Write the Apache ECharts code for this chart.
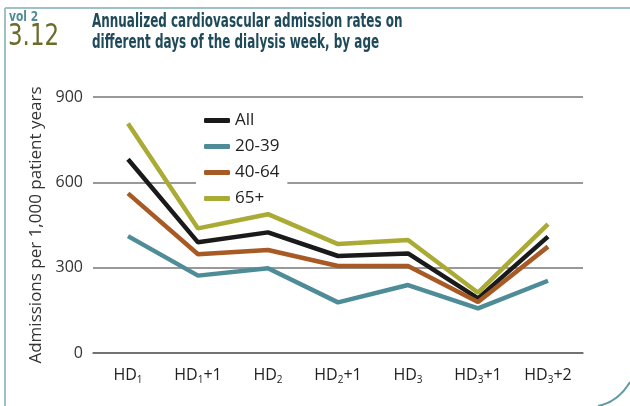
<!DOCTYPE html>
<html lang="en">
<head>
    <meta charset="UTF-8">
    <title>Annualized cardiovascular admission rates</title>
    <script src="https://cdn.jsdelivr.net/npm/echarts@6/dist/echarts.min.js"></script>
    <style>
        html, body {
            margin: 0;
            height: 100%;
            background: #fff;
        }
    </style>
</head>
<body>
<!--图表容器-->
<div id="main" style="width: 630px;height: 406px"></div>
</body>
</html>
<script>

    // 数据
    var days = ['HD|1|', 'HD|1|+1', 'HD|2|', 'HD|2|+1', 'HD|3|', 'HD|3|+1', 'HD|3|+2'];
    var allAges = [681, 389, 424, 341, 350, 192, 409];
    var age20to39 = [411, 272, 298, 178, 239, 157, 254];
    var age40to64 = [561, 347, 362, 306, 306, 179, 374];
    var age65plus = [807, 438, 488, 383, 397, 212, 453];
    var yTicks = [0, 300, 600, 900];

    // HD|1|+1 -> rich text with subscript
    function dayLabel(v) {
        var p = v.split('|');
        return '{a|' + p[0] + '}{s|' + p[1] + '}' + (p[2] ? '{a|' + p[2] + '}' : '');
    }

    var myChart = echarts.init(document.getElementById('main'));

    var lineW = 4.5;
    function line(name, data, color) {
        return {
            name: name,
            type: 'line',
            data: data,
            symbol: 'none',
            lineStyle: {color: color, width: lineW},
            itemStyle: {color: color}
        };
    }

    var condensed = '"DejaVu Sans Condensed", "DejaVu Sans", sans-serif';

    var option = {
        animation: false,
        backgroundColor: '#fff',
        textStyle: {fontFamily: 'Open Sans'},
        graphic: [
            {type: 'line', shape: {x1: 5, y1: 8, x2: 630, y2: 8}, style: {stroke: '#9fc0c6', lineWidth: 2}},
            {type: 'line', shape: {x1: 5, y1: 8, x2: 5, y2: 406}, style: {stroke: '#9fc0c6', lineWidth: 2}},
            {type: 'bezierCurve', shape: {x1: 598, y1: 406, x2: 630, y2: 382, cpx1: 618, cpy1: 402}, style: {stroke: '#5f9aa5', lineWidth: 2, fill: null}},
            // 标题 (压窄字体)
            {
                type: 'text', x: 92, y: 12, scaleX: 0.74, scaleY: 1.05, originX: 0,
                style: {
                    text: 'Annualized cardiovascular admission rates on\ndifferent days of the dialysis week, by age',
                    fontSize: 18, lineHeight: 20, fontFamily: condensed, fontWeight: 'bold', fill: '#1f4a5a'
                }
            },
            {type: 'text', x: 9, y: 10, scaleX: 0.85, style: {text: 'vol 2', fontSize: 14, fontFamily: condensed, fontWeight: 'bold', fill: '#4e8c98'}},
            {type: 'text', x: 8, y: 22, scaleX: 0.85, style: {text: '3.12', fontSize: 30, fontFamily: condensed, fill: '#6b6b2a'}}
        ],
        legend: {
            orient: 'vertical',
            left: 196,
            top: 108,
            itemWidth: 26,
            itemHeight: 5,
            itemGap: 9,
            padding: [4, 8, 4, 8],
            backgroundColor: '#fff',
            icon: 'roundRect',
            textStyle: {fontSize: 17, color: '#222', fontFamily: 'Open Sans'},
            data: ['All', '20-39', '40-64', '65+']
        },
        grid: {left: 93, right: 47, top: 97, bottom: 53},
        xAxis: {
            type: 'category',
            data: days,
            axisLine: {lineStyle: {color: '#666', width: 1.5}},
            axisTick: {alignWithLabel: true, inside: true, length: 9, lineStyle: {color: '#666', width: 1.5}},
            axisLabel: {
                interval: 0,
                margin: 12,
                formatter: dayLabel,
                rich: {
                    a: {fontSize: 16, color: '#222', fontFamily: 'Open Sans'},
                    s: {fontSize: 10, color: '#222', fontFamily: 'Open Sans', padding: [10, 0, 0, 0]}
                }
            }
        },
        yAxis: {
            type: 'value',
            min: yTicks[0],
            max: yTicks[yTicks.length - 1],
            interval: yTicks[1] - yTicks[0],
            name: 'Admissions per 1,000 patient years',
            nameLocation: 'middle',
            nameGap: 47,
            nameTextStyle: {fontSize: 17, color: '#333', fontFamily: 'Open Sans'},
            axisLine: {show: false},
            axisTick: {show: false},
            axisLabel: {fontSize: 16, color: '#333', margin: 10},
            splitLine: {lineStyle: {color: '#777', width: 1.5}}
        },
        series: [
            line('All', allAges, '#1a1a1a'),
            line('20-39', age20to39, '#4e8c98'),
            line('40-64', age40to64, '#a85a25'),
            line('65+', age65plus, '#a9ab35')
        ]
    };

    myChart.setOption(option);

</script>
